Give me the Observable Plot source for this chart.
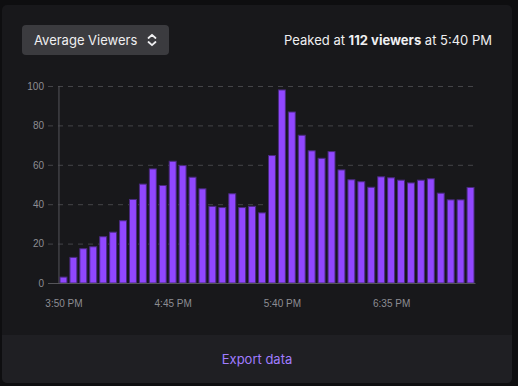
<!DOCTYPE html>
<html>
<head>
<meta charset="utf-8">
<script src="https://cdn.jsdelivr.net/npm/d3@7"></script>
<script src="https://cdn.jsdelivr.net/npm/@observablehq/plot@0.6"></script>
<style>
  html, body { margin: 0; padding: 0; }
  body { width: 518px; height: 386px; background: #0e0e10; position: relative; overflow: hidden; font-family: Inter, "Noto Sans", sans-serif; }
  #card { position: absolute; left: 2px; top: 5px; width: 510px; height: 378px; background: #18181b; border-radius: 5px; overflow: hidden; }
  #btn { position: absolute; left: 20px; top: 20px; width: 147px; height: 30px; background: #3b3b3f; border-radius: 4px; color: #efeff1; font-size: 13px; line-height: 30px; box-sizing: border-box; padding-left: 12px; }
  #btn svg { position: absolute; left: 124px; top: 8px; }
  #peak { position: absolute; right: 20px; top: 26px; color: #efeff1; font-size: 13px; line-height: 18px; }
  #peak b { font-weight: 700; }
  #footer { position: absolute; left: 0; top: 330px; width: 510px; height: 48px; background: #1f1f23; color: #a07cff; font-size: 13px; line-height: 48px; text-align: center; }
  #chart { position: absolute; left: 0; top: 0; }
</style>
</head>
<body>
<div id="card">
  <div id="btn">Average Viewers<svg width="12" height="14" viewBox="0 0 12 14"><path d="M2.5 5 L6 1.8 L9.5 5" fill="none" stroke="#efeff1" stroke-width="1.8" stroke-linecap="round" stroke-linejoin="round"/><path d="M2.5 9 L6 12.2 L9.5 9" fill="none" stroke="#efeff1" stroke-width="1.8" stroke-linecap="round" stroke-linejoin="round"/></svg></div>
  <div id="peak">Peaked at <b>112 viewers</b> at 5:40 PM</div>
  <div id="footer">Export data</div>
</div>
<div id="chart"></div>
<script>
const times = ["3:50 PM","3:55 PM","4:00 PM","4:05 PM","4:10 PM","4:15 PM","4:20 PM","4:25 PM","4:30 PM","4:35 PM","4:40 PM","4:45 PM","4:50 PM","4:55 PM","5:00 PM","5:05 PM","5:10 PM","5:15 PM","5:20 PM","5:25 PM","5:30 PM","5:35 PM","5:40 PM","5:45 PM","5:50 PM","5:55 PM","6:00 PM","6:05 PM","6:10 PM","6:15 PM","6:20 PM","6:25 PM","6:30 PM","6:35 PM","6:40 PM","6:45 PM","6:50 PM","6:55 PM","7:00 PM","7:05 PM","7:10 PM","7:15 PM"];
const viewers = [3,13,17.4,18.4,23.5,25.8,31.6,42.4,50.2,57.9,49.5,61.8,59.6,53.7,47.8,38.9,38.3,45.3,38.3,38.9,35.6,64.7,98,86.8,75,67.1,63.3,66.7,57.4,52.4,51.4,48.6,53.9,53.4,52.2,50.8,52.2,52.9,45.6,42.2,42.2,48.5];
const xTicks = ["3:50 PM","4:45 PM","5:40 PM","6:35 PM"];
const yTicks = [0,20,40,60,80,100];

const data = times.map((t, i) => ({time: t, value: viewers[i]}));

const chart = Plot.plot({
  width: 518,
  height: 330,
  marginLeft: 58.5,
  marginRight: 42.5,
  marginTop: 86,
  marginBottom: 47,
  style: {background: "transparent", color: "#8d8d93", fontFamily: "'Liberation Sans', Arial, sans-serif", fontSize: "10px"},
  x: {domain: times, paddingInner: 0.3, paddingOuter: 0.15, label: null},
  y: {domain: [0, 100], label: null},
  marks: [
    Plot.ruleY(yTicks.filter(d => d > 0), {stroke: "#444448", strokeDasharray: "5,5", insetLeft: -10.5, strokeWidth: 1}),
    Plot.ruleX([times[0]], {y1: 0, y2: 100, dx: -5, stroke: "#55555a", strokeWidth: 1}),
    Plot.barY(data, {x: "time", y: "value", fill: "#9147ff", stroke: "#4a2b80", strokeWidth: 1}),
    Plot.ruleY([0], {stroke: "#55555a", insetLeft: -10.5, strokeWidth: 1}),
    Plot.axisY({ticks: yTicks, tickSize: 0, tickPadding: 15, fill: "#8d8d93", label: null}),
    Plot.axisX({ticks: xTicks, tickSize: 0, tickPadding: 16, fill: "#8d8d93", label: null})
  ]
});
document.getElementById("chart").appendChild(chart);
</script>
</body>
</html>
